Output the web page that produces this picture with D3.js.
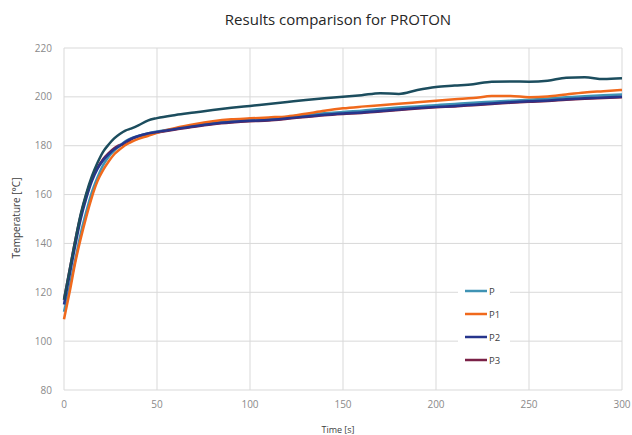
<!DOCTYPE html>
<html>
<head>
<meta charset="utf-8">
<script src="https://cdn.jsdelivr.net/npm/d3@7"></script>
<style>
  body { margin: 0; background: #fff; }
  text { font-family: "Open Sans", "Liberation Sans", sans-serif; }
</style>
</head>
<body>
<div id="vis-holder"></div>
<script>
// Chart values
const times = [0, 3, 6, 9, 12, 15, 18, 21, 24, 27, 30, 33, 36, 40, 45, 50,
  60, 70, 80, 90, 100, 110, 120, 130, 140, 150, 160, 170, 180, 190, 200,
  210, 220, 230, 240, 250, 260, 270, 280, 290, 300];

const seriesP = [112, 122, 133, 144, 153, 161, 167, 172, 175.5, 178, 180, 181.8, 183, 184, 185, 185.8,
  187, 188.3, 189.2, 190, 190.6, 191.2, 191.8, 192.6, 193.3, 193.8, 194.3, 195, 195.6, 196.1, 196.6,
  197.1, 197.6, 198, 198.4, 198.8, 199.3, 199.8, 200.3, 200.7, 201];

const seriesP1 = [109, 120, 132, 142, 151, 159, 165.5, 170, 173.5, 176.5, 178.5, 180.3, 181.5, 182.8, 184, 185.3,
  187.3, 188.8, 190, 190.8, 191.2, 191.6, 192, 193.1, 194.3, 195.3, 196, 196.6, 197.2, 197.8, 198.4,
  199, 199.5, 200.3, 200.4, 199.8, 200.1, 201, 201.8, 202.3, 202.8];

const seriesP2 = [115, 127, 139, 150, 158.5, 165.5, 170.5, 174, 176.5, 178.5, 180, 181.5, 182.8, 184, 185, 185.6,
  186.8, 188, 189, 189.7, 190.2, 190.5, 191.2, 192, 192.7, 193.2, 193.6, 194.2, 194.8, 195.4, 195.9,
  196.3, 196.8, 197.3, 197.8, 198.2, 198.5, 199, 199.4, 199.7, 200];

const seriesP3 = [117, 129, 141, 151.5, 160, 166.5, 171, 174.5, 177, 179, 180.3, 180.5, 182.6, 183.8, 184.8, 185.4,
  186.6, 187.8, 188.8, 189.5, 190, 190.3, 191, 191.8, 192.5, 193, 193.4, 194, 194.6, 195.2, 195.7,
  196.1, 196.6, 197.1, 197.6, 198, 198.3, 198.8, 199.2, 199.5, 199.8];

// upper curve, not named in the legend
const seriesTop = [117, 129, 141, 152, 160.5, 167.5, 173, 177.5, 180.5, 183, 184.8, 186.2, 187, 188.3, 190.3, 191.3,
  192.6, 193.6, 194.6, 195.5, 196.3, 197.1, 197.9, 198.7, 199.4, 200, 200.7, 201.5, 201.2, 202.8, 204,
  204.6, 205.2, 206.2, 206.3, 206.2, 206.6, 207.8, 208, 207.3, 207.6];

const xTicks = [0, 50, 100, 150, 200, 250, 300];
const yTicks = [80, 100, 120, 140, 160, 180, 200, 220];

const legendNames = ["P", "P1", "P2", "P3"];

const width = 632;
const height = 435;
const margin = { top: 48, right: 10, bottom: 45, left: 64 };

const svg = d3.select("#vis-holder")
  .append("svg")
  .attr("width", width)
  .attr("height", height);

const x = d3.scaleLinear()
  .domain([0, 300])
  .range([margin.left, 622]);

const y = d3.scaleLinear()
  .domain([80, 220])
  .range([390, margin.top]);

// gridlines
svg.append("g")
  .selectAll("line")
  .data(yTicks)
  .join("line")
  .attr("x1", x(0))
  .attr("x2", x(300))
  .attr("y1", d => y(d))
  .attr("y2", d => y(d))
  .attr("stroke", "#d9d9d9")
  .attr("stroke-width", 1);

svg.append("g")
  .selectAll("line")
  .data(xTicks)
  .join("line")
  .attr("x1", d => x(d))
  .attr("x2", d => x(d))
  .attr("y1", y(80))
  .attr("y2", y(220))
  .attr("stroke", "#d9d9d9")
  .attr("stroke-width", 1);

// tick labels
svg.append("g")
  .selectAll("text")
  .data(yTicks)
  .join("text")
  .attr("x", 52)
  .attr("y", d => y(d) + 3.5)
  .attr("text-anchor", "end")
  .attr("font-size", "10px")
  .attr("fill", "#8a8a8a")
  .text(d => d);

svg.append("g")
  .selectAll("text")
  .data(xTicks)
  .join("text")
  .attr("x", d => x(d))
  .attr("y", 408)
  .attr("text-anchor", "middle")
  .attr("font-size", "10px")
  .attr("fill", "#8a8a8a")
  .text(d => d);

// axis titles
svg.append("text")
  .attr("x", 338)
  .attr("y", 433)
  .attr("text-anchor", "middle")
  .attr("font-size", "9px")
  .attr("fill", "#404040")
  .text("Time [s]");

svg.append("text")
  .attr("transform", "translate(20,218) rotate(-90)")
  .attr("text-anchor", "middle")
  .attr("font-size", "10px")
  .attr("fill", "#404040")
  .text("Temperature [°C]");

svg.append("text")
  .attr("x", 338)
  .attr("y", 25)
  .attr("text-anchor", "middle")
  .attr("font-size", "15px")
  .attr("fill", "#262626")
  .text("Results comparison for PROTON");

// lines
const line = d3.line()
  .x((d, i) => x(times[i]))
  .y(d => y(d))
  .curve(d3.curveMonotoneX);

const drawOrder = [
  { values: seriesP3, color: "#7a2147" },
  { values: seriesP, color: "#3f93b4" },
  { values: seriesP1, color: "#f0691c" },
  { values: seriesP2, color: "#26358c" },
  { values: seriesTop, color: "#1c4d5e" }
];

svg.append("g")
  .selectAll("path")
  .data(drawOrder)
  .join("path")
  .attr("d", d => line(d.values))
  .attr("fill", "none")
  .attr("stroke", d => d.color)
  .attr("stroke-width", 2.5)
  .attr("stroke-linejoin", "round");

// legend
const legendColors = ["#3f93b4", "#f0691c", "#26358c", "#7a2147"];

const legend = svg.append("g");

legend.append("rect")
  .attr("x", 458)
  .attr("y", 278)
  .attr("width", 52)
  .attr("height", 96)
  .attr("fill", "#fff");

const rows = legend.selectAll("g")
  .data(legendNames)
  .join("g")
  .attr("transform", (d, i) => `translate(465,${291 + i * 23})`);

rows.append("line")
  .attr("x1", 0)
  .attr("x2", 22)
  .attr("stroke", (d, i) => legendColors[i])
  .attr("stroke-width", 2.5);

rows.append("text")
  .attr("x", 24)
  .attr("y", 3.5)
  .attr("font-size", "9.5px")
  .attr("fill", "#404040")
  .text(d => d);
</script>
</body>
</html>
